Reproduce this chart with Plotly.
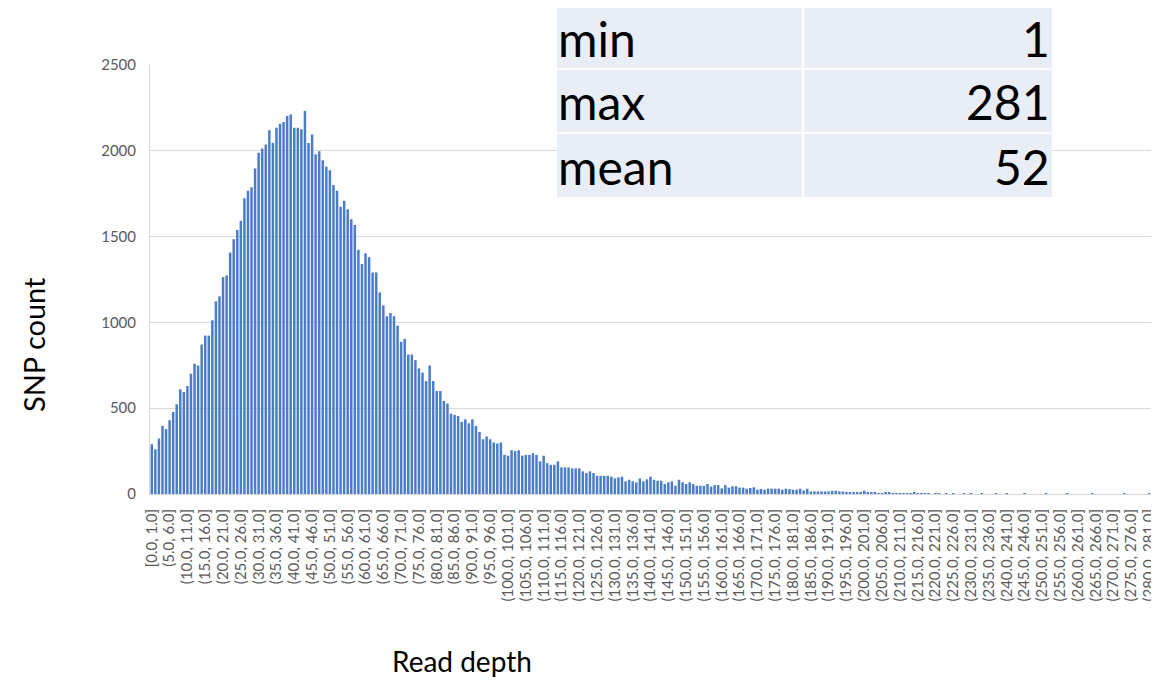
import plotly.graph_objects as go

# ---- data ----
bin_edges = list(range(0, 282))
categories = [("[" if i == 0 else "(") + f"{bin_edges[i]:.1f}, {bin_edges[i+1]:.1f}]" for i in range(281)]

snp_counts = [
    290, 260, 323, 397, 378, 430, 478, 523, 610, 594,
    629, 701, 759, 749, 871, 923, 923, 1012, 1123, 1152,
    1264, 1274, 1407, 1485, 1539, 1593, 1723, 1767, 1787, 1897,
    1988, 2013, 2037, 2120, 2046, 2135, 2158, 2168, 2203, 2211,
    2135, 2135, 2126, 2232, 2046, 2095, 1980, 1998, 1945, 1907,
    1887, 1800, 1767, 1674, 1709, 1659, 1601, 1568, 1423, 1340,
    1403, 1380, 1291, 1291, 1175, 1099, 1036, 1055, 1036, 981,
    887, 904, 813, 813, 780, 732, 707, 658, 749, 658,
    600, 600, 542, 527, 468, 461, 455, 420, 435, 412,
    435, 397, 362, 319, 335, 319, 300, 294, 300, 228,
    223, 255, 250, 255, 223, 228, 228, 238, 228, 190,
    223, 180, 170, 170, 190, 155, 155, 155, 149, 149,
    149, 132, 122, 132, 122, 106, 106, 106, 106, 101,
    91, 97, 101, 74, 83, 74, 68, 91, 74, 85,
    101, 83, 77, 77, 58, 68, 74, 48, 83, 68,
    58, 68, 58, 48, 48, 48, 58, 43, 52, 52,
    33, 52, 37, 45, 45, 37, 37, 31, 35, 39,
    25, 29, 25, 31, 31, 31, 31, 25, 31, 29,
    25, 25, 31, 21, 31, 15, 15, 15, 15, 15,
    15, 19, 19, 15, 15, 12, 12, 12, 12, 12,
    19, 12, 10, 10, 4, 4, 12, 12, 2, 2,
    1, 2, 2, 1, 12, 3, 1, 2, 1, 0,
    1, 1, 0, 1, 0, 1, 0, 0, 1, 0,
    1, 0, 0, 1, 0, 0, 0, 1, 0, 0,
    1, 0, 0, 0, 0, 1, 0, 0, 0, 0,
    0, 1, 0, 0, 0, 0, 0, 1, 0, 0,
    0, 0, 0, 0, 1, 0, 0, 0, 0, 0,
    0, 0, 0, 1, 0, 0, 0, 0, 0, 0,
    1,
]

tick_labels = categories[::5]
y_ticks = [0, 500, 1000, 1500, 2000, 2500]

stat_names = ["min", "max", "mean"]
stat_values = ["1", "281", "52"]

# ---- layout helpers (page pixel -> paper); page body has an 8px margin ----
OFF = 8
PAGE_W, PAGE_H = 1159, 683
W, H = PAGE_W - OFF, PAGE_H - OFF
PL, PR, PT, PB = 150, 1151, 65, 494          # plot area in page pixels
L, R, T, B = PL - OFF, PAGE_W - PR, PT - OFF, PAGE_H - PB
PW, PH = PR - PL, PB - PT


def px(x):
    return (x - PL) / PW


def py(y):
    return (PB - y) / PH


fig = go.Figure(go.Bar(
    x=categories, y=snp_counts,
    marker=dict(color="#4A7CC8", line=dict(width=0)),
))

fig.update_layout(
    width=W, height=H,
    margin=dict(l=L, r=R, t=T, b=B),
    plot_bgcolor="white", paper_bgcolor="white",
    bargap=0.3, showlegend=False,
    font=dict(family="Lato", color="#595959"),
)
fig.update_xaxes(
    type="category", tickmode="array", tickvals=tick_labels, ticktext=tick_labels,
    tickangle=-90, tickfont=dict(size=15, color="#595959"),
    showline=True, linecolor="#D9D9D9", linewidth=1, ticks="", showgrid=False,
    ticklabelstandoff=8, automargin=False,
)
fig.update_yaxes(
    range=[0, 2500], tickvals=y_ticks, tickfont=dict(size=15, color="#595959"),
    showgrid=True, gridcolor="#D9D9D9", gridwidth=1,
    showline=True, linecolor="#D9D9D9", zeroline=False, ticks="",
    ticklabelstandoff=10, automargin=False,
)

shapes = []
annotations = []

# stats table
tx0, tx1, ty0, ty1 = 557, 1052, 5, 197
shapes.append(dict(type="rect", xref="paper", yref="paper", x0=px(tx0), x1=px(tx1),
                   y0=py(ty1), y1=py(ty0), fillcolor="#E9EDF5", line=dict(width=0), layer="above"))
row_h = (ty1 - ty0) / 3
for k in (1, 2):
    yy = ty0 + k * row_h
    shapes.append(dict(type="line", xref="paper", yref="paper", x0=px(tx0), x1=px(tx1),
                       y0=py(yy), y1=py(yy), line=dict(color="white", width=2.5), layer="above"))
shapes.append(dict(type="line", xref="paper", yref="paper", x0=px(803), x1=px(803),
                   y0=py(ty1), y1=py(ty0), line=dict(color="white", width=2.5), layer="above"))

for k, (nm, val) in enumerate(zip(stat_names, stat_values)):
    yc = ty0 + (k + 0.5) * row_h + 1
    annotations.append(dict(xref="paper", yref="paper", x=px(556), y=py(yc), text=nm,
                            xanchor="left", yanchor="middle", showarrow=False,
                            font=dict(family="Lato", size=48, color="black")))
    annotations.append(dict(xref="paper", yref="paper", x=px(1052), y=py(yc), text=val,
                            xanchor="right", yanchor="middle", showarrow=False,
                            font=dict(family="Lato", size=48, color="black")))

# axis titles
annotations.append(dict(xref="paper", yref="paper", x=px(462), y=py(661), text="Read depth",
                        xanchor="center", yanchor="middle", showarrow=False,
                        font=dict(family="Lato", size=28, color="black")))
annotations.append(dict(xref="paper", yref="paper", x=px(33), y=py(345), text="SNP count",
                        textangle=-90, xanchor="center", yanchor="middle", showarrow=False,
                        font=dict(family="Lato", size=29, color="black")))

fig.update_layout(shapes=shapes, annotations=annotations)

fig.write_html("out.html")
